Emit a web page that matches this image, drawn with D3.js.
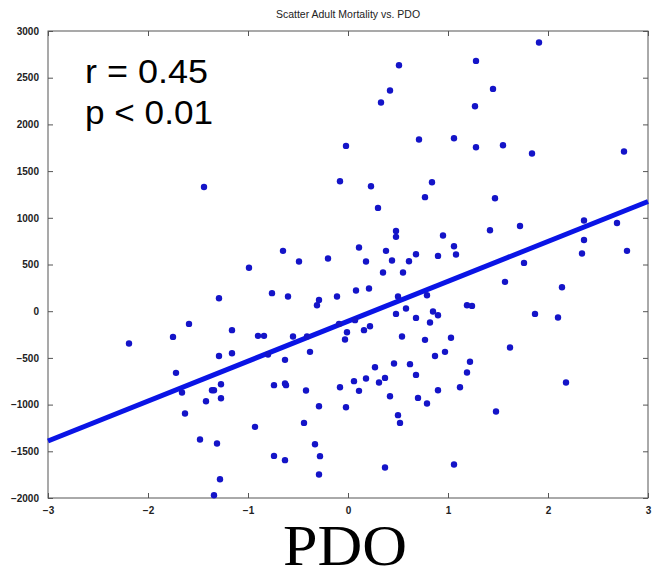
<!DOCTYPE html>
<html><head><meta charset="utf-8">
<script src="https://cdn.jsdelivr.net/npm/d3@7"></script>
<style>body{margin:0;background:#fff}svg{display:block}</style>
</head><body>
<script>
const pdo = [-1.44,0.51,0.42,0.33,0.71,-0.02,-0.08,0.23,0.84,0.77,0.30,0.48,0.48,0.95,-0.65,0.11,0.38,0.68,0.90,-0.49,-0.20,0.18,0.44,0.61,
1.91,1.28,1.45,1.27,1.06,1.28,1.55,1.84,2.76,1.47,2.36,2.69,1.42,1.72,1.06,1.08,2.36,2.34,2.79,1.76,
-0.99,-1.29,-1.59,-1.75,-1.16,-2.19,-1.29,-1.16,-1.72,-1.27,-1.36,-1.34,-1.66,-1.27,-1.42,-1.63,-1.48,-1.31,-1.28,-1.34,
0.35,0.55,-0.76,-0.60,-0.29,-0.31,-0.11,0.08,0.21,0.50,0.79,0.58,0.48,0.68,0.85,0.90,0.82,-0.90,-0.84,-0.55,-0.41,-0.09,0.07,-0.01,-0.03,0.16,0.22,0.54,0.77,1.03,
-0.80,-0.38,-0.63,0.87,0.97,0.27,0.46,0.62,0.68,-0.74,-0.63,-0.62,-0.42,-0.08,0.06,0.11,0.18,0.31,0.37,0.42,0.70,0.79,0.90,-0.29,-0.02,-0.93,-0.44,0.50,0.52,-0.33,-0.74,-0.63,-0.28,-0.29,0.37,
1.57,2.14,1.19,1.24,1.87,2.10,1.62,1.22,1.19,1.12,2.18,1.48,1.06];
const mortality = [1330,2634,2363,2234,1838,1770,1392,1338,1381,1221,1106,860,796,810,646,682,646,610,592,532,564,532,543,535,
2877,2680,2380,2195,1852,1756,1777,1688,1710,1210,971,945,867,913,696,607,763,618,646,517,
466,139,-136,-275,-203,-346,-479,-450,-660,-782,-846,-846,-871,-932,-964,-1096,-1374,-1417,-1799,-1970,
414,414,193,157,121,64,157,221,243,157,171,29,-29,-72,-3,-43,-121,-264,-264,-271,-271,-136,-96,-225,-303,-203,-161,-271,-307,-285,
-464,-435,-521,-479,-435,-600,-560,-567,-682,-792,-774,-792,-849,-814,-749,-853,-721,-763,-714,-910,-928,-988,-846,-1017,-1028,-1238,-1196,-1113,-1196,-1424,-1549,-1595,-1552,-1748,-1673,
314,257,64,57,-29,-67,-389,-542,-657,-814,-764,-1074,-1642];
const fitX = [-3, 3];
const fitY = [-1390, 1175];
const xTicks = [-3,-2,-1,0,1,2,3];
const yTicks = [-2000,-1500,-1000,-500,0,500,1000,1500,2000,2500,3000];
const title = "Scatter Adult Mortality vs. PDO";
const stats = ["r = 0.45", "p < 0.01"];
const xLabel = "PDO";

const W = 652, H = 571;
const m = {l:48, r:4, t:31, b:73};
const svg = d3.select("body").append("svg").attr("width", W).attr("height", H);
const x = d3.scaleLinear().domain([-3,3]).range([m.l, W - m.r]);
const y = d3.scaleLinear().domain([-2000,3000]).range([H - m.b, m.t]);
const axCol = "#555";

// frame
svg.append("rect").attr("x", x(-3)).attr("y", y(3000)).attr("width", x(3)-x(-3)).attr("height", y(-2000)-y(3000))
  .attr("fill","none").attr("stroke",axCol).attr("stroke-width",1);

const fontTick = "bold 10px 'Liberation Sans', Arial, sans-serif";
const gx = svg.append("g").attr("transform", `translate(0,${y(-2000)})`)
  .call(d3.axisBottom(x).tickValues(xTicks).tickSize(-5).tickPadding(9).tickFormat(d3.format("d")));
const gxTop = svg.append("g").attr("transform", `translate(0,${y(3000)})`)
  .call(d3.axisTop(x).tickValues(xTicks).tickSize(-5).tickFormat(""));
const gy = svg.append("g").attr("transform", `translate(${x(-3)},0)`)
  .call(d3.axisLeft(y).tickValues(yTicks).tickSize(-5).tickPadding(9).tickFormat(d3.format("d")));
const gyR = svg.append("g").attr("transform", `translate(${x(3)},0)`)
  .call(d3.axisRight(y).tickValues(yTicks).tickSize(-5).tickFormat(""));
[gx,gxTop,gy,gyR].forEach(g=>{
  g.select(".domain").remove();
  g.selectAll(".tick line").attr("stroke",axCol);
  g.selectAll(".tick text").attr("fill","#222").style("font", fontTick);
});

// fit line
const line = d3.line().x(d=>x(d[0])).y(d=>y(d[1]));
svg.append("path").datum(d3.zip(fitX, fitY)).attr("d", line)
  .attr("stroke","#0a14e6").attr("stroke-width",5).attr("fill","none");

// points
svg.append("g").selectAll("circle").data(d3.zip(pdo, mortality)).join("circle")
  .attr("cx", d=>x(d[0])).attr("cy", d=>y(d[1])).attr("r", 3.2).attr("fill","#1414c8");

// title
svg.append("text").attr("x", (x(-3)+x(3))/2).attr("y", 18).attr("text-anchor","middle")
  .style("font","10.5px 'Liberation Sans', Arial, sans-serif").attr("fill","#222").text(title);

// stats
const statLen = [123, 128];
stats.forEach((s,i)=>{
  svg.append("text").attr("x", 85).attr("y", 83 + i*40.5)
    .attr("textLength", statLen[i]).attr("lengthAdjust","spacingAndGlyphs")
    .style("font","32.5px 'Liberation Sans', Arial, sans-serif").attr("fill","#000").text(s);
});

// x label
svg.append("text").attr("x", 345).attr("y", 565).attr("text-anchor","middle")
  .attr("textLength", 124).attr("lengthAdjust","spacingAndGlyphs")
  .style("font","57px 'Liberation Serif', 'Times New Roman', serif").attr("fill","#000").text(xLabel);
</script>
</body></html>
